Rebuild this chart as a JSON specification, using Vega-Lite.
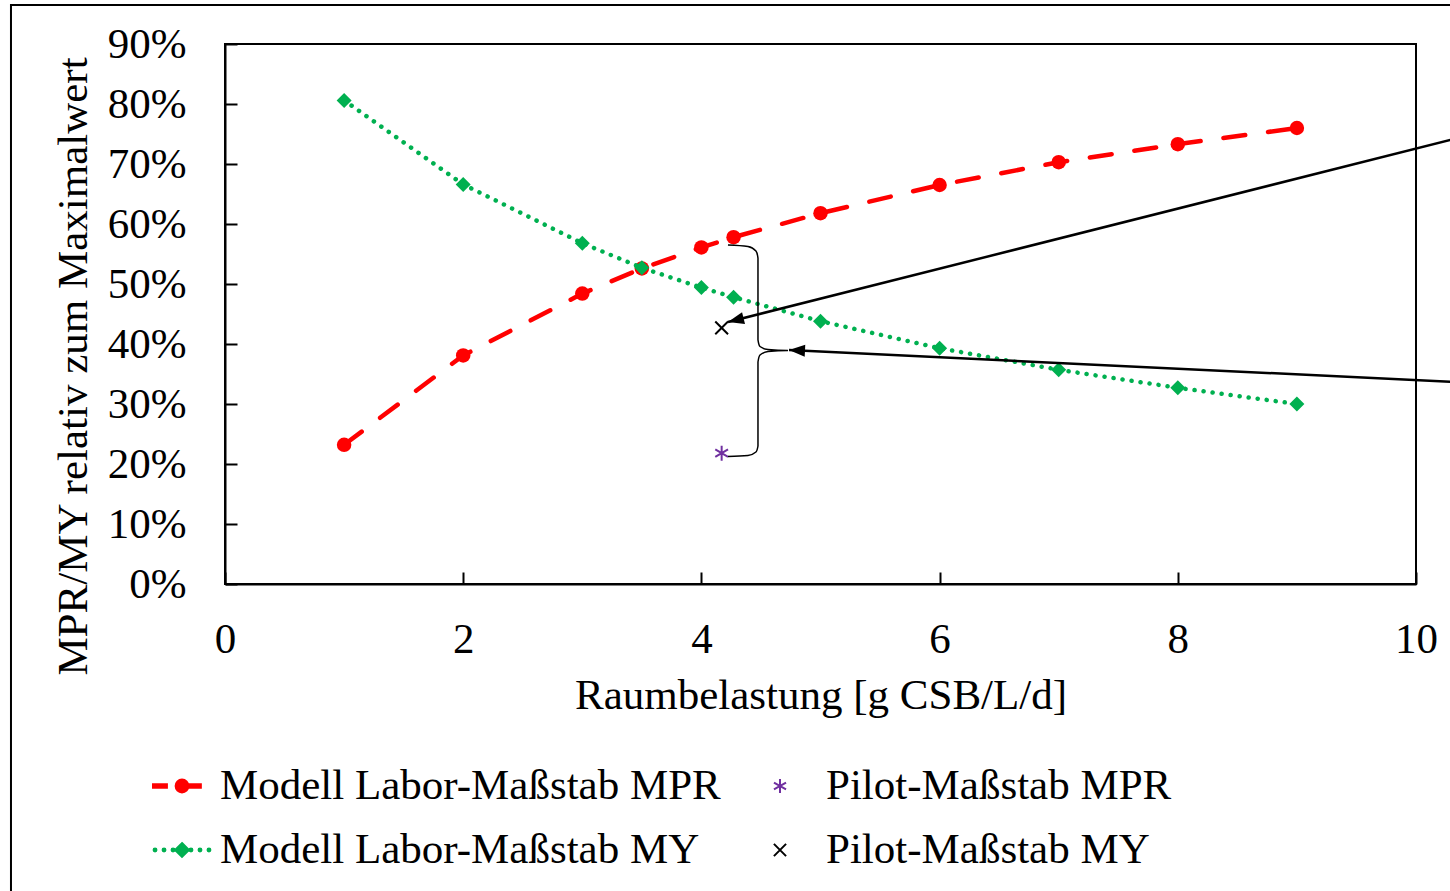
{
  "$schema": "https://vega.github.io/schema/vega-lite/v6.json",
  "width": 1191,
  "height": 540,
  "autosize": {"type": "none"},
  "padding": {"left": 225, "top": 44, "right": 34, "bottom": 307},
  "background": "white",
  "config": {
    "font": "Liberation Serif",
    "view": {"stroke": "black", "strokeWidth": 2},
    "axis": {
      "grid": false,
      "domainColor": "black",
      "domainWidth": 2,
      "tickColor": "black",
      "tickWidth": 2,
      "tickSize": -12,
      "labelFont": "Liberation Serif",
      "labelFontSize": 43,
      "labelColor": "black",
      "titleFont": "Liberation Serif",
      "titleFontSize": 43,
      "titleFontWeight": "normal",
      "titleColor": "black"
    },
    "legend": {
      "labelFont": "Liberation Serif",
      "labelFontSize": 43,
      "labelColor": "black",
      "labelLimit": 2000,
      "labelOffset": 8,
      "symbolSize": 3364,
      "symbolStrokeWidth": 2,
      "padding": 0,
      "rowPadding": 12,
      "columnPadding": 37
    }
  },
  "datasets": {
    "model": [
      {"series": "MPR", "x": 1, "y": 0.232},
      {"series": "MPR", "x": 2, "y": 0.381},
      {"series": "MPR", "x": 3, "y": 0.484},
      {"series": "MPR", "x": 3.5, "y": 0.526},
      {"series": "MPR", "x": 4, "y": 0.561},
      {"series": "MPR", "x": 4.27, "y": 0.578},
      {"series": "MPR", "x": 5, "y": 0.618},
      {"series": "MPR", "x": 6, "y": 0.665},
      {"series": "MPR", "x": 7, "y": 0.703},
      {"series": "MPR", "x": 8, "y": 0.733},
      {"series": "MPR", "x": 9, "y": 0.76},
      {"series": "MY", "x": 1, "y": 0.806},
      {"series": "MY", "x": 2, "y": 0.666},
      {"series": "MY", "x": 3, "y": 0.568},
      {"series": "MY", "x": 3.5, "y": 0.527},
      {"series": "MY", "x": 4, "y": 0.494},
      {"series": "MY", "x": 4.27, "y": 0.478},
      {"series": "MY", "x": 5, "y": 0.438},
      {"series": "MY", "x": 6, "y": 0.393},
      {"series": "MY", "x": 7, "y": 0.357},
      {"series": "MY", "x": 8, "y": 0.327},
      {"series": "MY", "x": 9, "y": 0.3}
    ],
    "pilot": [
      {"series": "MPR", "x": 4.17, "y": 0.218},
      {"series": "MY", "x": 4.17, "y": 0.427}
    ],
    "brace": [
      {"i": 1, "x": 4.223, "y": 0.565},
      {"i": 2, "x": 4.391, "y": 0.5625},
      {"i": 3, "x": 4.458, "y": 0.555},
      {"i": 4, "x": 4.475, "y": 0.5433},
      {"i": 5, "x": 4.475, "y": 0.4067},
      {"i": 6, "x": 4.492, "y": 0.3958},
      {"i": 7, "x": 4.559, "y": 0.3908},
      {"i": 8, "x": 4.727, "y": 0.3892},
      {"i": 9, "x": 4.559, "y": 0.3875},
      {"i": 10, "x": 4.492, "y": 0.3817},
      {"i": 11, "x": 4.475, "y": 0.37},
      {"i": 12, "x": 4.475, "y": 0.23},
      {"i": 13, "x": 4.458, "y": 0.22},
      {"i": 14, "x": 4.391, "y": 0.2142},
      {"i": 15, "x": 4.223, "y": 0.2125}
    ],
    "arrows": [
      {"arrow": "A", "x": 10.37, "y": 0.7442, "x2": 4.2233, "y2": 0.4367},
      {"arrow": "B", "x": 10.37, "y": 0.3363, "x2": 4.7355, "y2": 0.39}
    ],
    "frame": [
      {"x": -1.797, "x2": 10.6, "y": 0.965, "y2": -0.6}
    ]
  },
  "layer": [
    {
      "data": {"name": "model"},
      "transform": [{"filter": "datum.series === 'MPR'"}],
      "mark": {"type": "line", "color": "#FF0000", "strokeWidth": 4.5, "strokeDash": [22, 23], "strokeCap": "round"},
      "encoding": {
        "x": {"field": "x", "type": "quantitative", "scale": {"domain": [0, 10], "nice": false}, "axis": {"values": [0, 2, 4, 6, 8, 10], "format": "d", "labelFlush": false, "labelPadding": 80, "labelBaseline": "alphabetic", "title": "Raumbelastung [g CSB/L/d]", "titleBaseline": "alphabetic", "titleY": 124}},
        "y": {"field": "y", "type": "quantitative", "scale": {"domain": [0, 0.9], "nice": false}, "axis": {"values": [0, 0.1, 0.2, 0.3, 0.4, 0.5, 0.6, 0.7, 0.8, 0.9], "format": ".0%", "labelPadding": 51, "title": "MPR/MY relativ zum Maximalwert", "titleBaseline": "alphabetic", "titleX": -139, "titleY": 322, "titleAngle": -90}},
        "order": {"field": "x", "type": "quantitative"}
      }
    },
    {
      "data": {"name": "model"},
      "transform": [{"filter": "datum.series === 'MPR'"}],
      "mark": {"type": "point", "shape": "circle", "filled": true, "color": "#FF0000", "size": 210, "opacity": 1},
      "encoding": {
        "x": {"field": "x", "type": "quantitative"},
        "y": {"field": "y", "type": "quantitative"}
      }
    },
    {
      "data": {"name": "model"},
      "transform": [{"filter": "datum.series === 'MY'"}],
      "mark": {"type": "line", "color": "#00B050", "strokeWidth": 4.5, "strokeDash": [0.1, 9], "strokeCap": "round"},
      "encoding": {
        "x": {"field": "x", "type": "quantitative"},
        "y": {"field": "y", "type": "quantitative"},
        "order": {"field": "x", "type": "quantitative"}
      }
    },
    {
      "data": {"name": "model"},
      "transform": [{"filter": "datum.series === 'MY'"}],
      "mark": {"type": "point", "shape": "diamond", "filled": true, "color": "#00B050", "size": 225, "opacity": 1},
      "encoding": {
        "x": {"field": "x", "type": "quantitative"},
        "y": {"field": "y", "type": "quantitative"}
      }
    },
    {
      "data": {"name": "pilot"},
      "transform": [{"filter": "datum.series === 'MPR'"}],
      "mark": {"type": "point", "shape": "M0,-0.26V0.26M-0.22,-0.13L0.22,0.13M-0.22,0.13L0.22,-0.13", "filled": false, "color": "#7030A0", "size": 3364, "strokeWidth": 2, "opacity": 1},
      "encoding": {
        "x": {"field": "x", "type": "quantitative"},
        "y": {"field": "y", "type": "quantitative"}
      }
    },
    {
      "data": {"name": "pilot"},
      "transform": [{"filter": "datum.series === 'MY'"}],
      "mark": {"type": "point", "shape": "M-0.22,-0.22L0.22,0.22M-0.22,0.22L0.22,-0.22", "filled": false, "color": "black", "size": 3364, "strokeWidth": 2, "opacity": 1},
      "encoding": {
        "x": {"field": "x", "type": "quantitative"},
        "y": {"field": "y", "type": "quantitative"}
      }
    },
    {
      "data": {"name": "brace"},
      "mark": {"type": "line", "color": "black", "strokeWidth": 1.5, "interpolate": "monotone"},
      "encoding": {
        "x": {"field": "x", "type": "quantitative"},
        "y": {"field": "y", "type": "quantitative"},
        "order": {"field": "i", "type": "quantitative"}
      }
    },
    {
      "data": {"name": "arrows"},
      "mark": {"type": "rule", "color": "black", "strokeWidth": 2.5, "clip": false},
      "encoding": {
        "x": {"field": "x", "type": "quantitative"},
        "y": {"field": "y", "type": "quantitative"},
        "x2": {"field": "x2"},
        "y2": {"field": "y2"}
      }
    },
    {
      "data": {"name": "arrows"},
      "transform": [{"filter": "datum.arrow === 'A'"}],
      "mark": {"type": "point", "shape": "M0,0L1,-0.375L1,0.375Z", "filled": true, "color": "black", "size": 1024, "angle": 345.9, "opacity": 1},
      "encoding": {
        "x": {"field": "x2", "type": "quantitative"},
        "y": {"field": "y2", "type": "quantitative"}
      }
    },
    {
      "data": {"name": "arrows"},
      "transform": [{"filter": "datum.arrow === 'B'"}],
      "mark": {"type": "point", "shape": "M0,0L1,-0.375L1,0.375Z", "filled": true, "color": "black", "size": 1024, "angle": 2.7, "opacity": 1},
      "encoding": {
        "x": {"field": "x2", "type": "quantitative"},
        "y": {"field": "y2", "type": "quantitative"}
      }
    },
    {
      "data": {"name": "frame"},
      "mark": {"type": "rect", "fillOpacity": 0, "fill": "white", "stroke": "black", "strokeWidth": 2, "clip": false},
      "encoding": {
        "x": {"field": "x", "type": "quantitative"},
        "x2": {"field": "x2"},
        "y": {"field": "y", "type": "quantitative"},
        "y2": {"field": "y2"}
      }
    },
    {
      "data": {"values": []},
      "mark": {"type": "point", "filled": true, "opacity": 1, "size": 3364, "strokeWidth": 2},
      "encoding": {
        "fill": {
          "field": "label", "type": "nominal",
          "scale": {"domain": ["Modell Labor-Maßstab MPR", "Modell Labor-Maßstab MY", "Pilot-Maßstab MPR", "Pilot-Maßstab MY"], "range": ["#FF0000", "#00B050", "#7030A0", "black"]},
          "legend": {"title": null, "orient": "none", "legendX": -73, "legendY": 712, "columns": 2, "direction": "vertical"}
        },
        "stroke": {
          "field": "label", "type": "nominal",
          "scale": {"domain": ["Modell Labor-Maßstab MPR", "Modell Labor-Maßstab MY", "Pilot-Maßstab MPR", "Pilot-Maßstab MY"], "range": ["#FF0000", "#00B050", "#7030A0", "black"]},
          "legend": {"title": null, "orient": "none", "legendX": -73, "legendY": 712, "columns": 2, "direction": "vertical"}
        },
        "shape": {
          "field": "label", "type": "nominal",
          "scale": {"domain": ["Modell Labor-Maßstab MPR", "Modell Labor-Maßstab MY", "Pilot-Maßstab MPR", "Pilot-Maßstab MY"], "range": [
            "M-1,-0.06H-0.52V0.06H-1ZM0,-0.06H0.65V0.06H0ZM0.22,0A0.22,0.22,0,1,1,-0.22,0A0.22,0.22,0,1,1,0.22,0Z",
            "M-0.88,0A0.05,0.05,0,1,1,-0.98,0A0.05,0.05,0,1,1,-0.88,0ZM-0.57,0A0.05,0.05,0,1,1,-0.67,0A0.05,0.05,0,1,1,-0.57,0ZM-0.26,0A0.05,0.05,0,1,1,-0.36,0A0.05,0.05,0,1,1,-0.26,0ZM0.36,0A0.05,0.05,0,1,1,0.26,0A0.05,0.05,0,1,1,0.36,0ZM0.67,0A0.05,0.05,0,1,1,0.57,0A0.05,0.05,0,1,1,0.67,0ZM0.98,0A0.05,0.05,0,1,1,0.88,0A0.05,0.05,0,1,1,0.98,0ZM0,-0.24L0.24,0L0,0.24L-0.24,0Z",
            "M-0.276,-0.24V0.24M-0.484,-0.12L-0.068,0.12M-0.484,0.12L-0.068,-0.12",
            "M-0.486,-0.21L-0.066,0.21M-0.486,0.21L-0.066,-0.21"
          ]},
          "legend": {"title": null, "orient": "none", "legendX": -73, "legendY": 712, "columns": 2, "direction": "vertical"}
        }
      }
    }
  ]
}
